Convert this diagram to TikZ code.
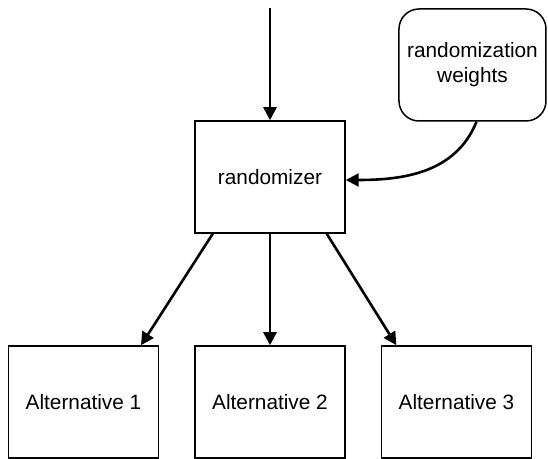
\documentclass[tikz,border=0pt]{standalone}
\usepackage{fontspec}
\setmainfont{Liberation Sans}
\usetikzlibrary{arrows.meta}

\tikzset{
  block/.style={draw, line width=0.75pt, minimum width=75pt, minimum height=56pt,
    inner sep=0pt, align=center, font=\fontsize{10.4}{12.5}\selectfont},
  weightbox/.style={block, minimum width=73.5pt, rounded corners=10pt},
  arr/.style={line width=1.3pt, -{Triangle[length=6.5pt,width=6.5pt]}}
}

\begin{document}
\begin{tikzpicture}[x=0.5pt, y=-0.5pt]

% Fix the page size
\useasboundingbox (0,0) rectangle (548,459);

% Define the entry point of the top arrow
\coordinate (in) at (270,8);

% Place the boxes
\node[block] (rand) at (270,177) {randomizer};
\node[weightbox] (weights) at (472.5,65) {randomization\\weights};
\node[block] (alt1) at (83.5,402) {Alternative 1};
\node[block] (alt2) at (270,402) {Alternative 2};
\node[block] (alt3) at (456.5,402) {Alternative 3};

% Draw the incoming arrow
\draw[arr] (in) -- (rand.north);

% Draw the arrow from the weights
\draw[arr] ([xshift=2pt]weights.south) to[out=-112, in=0] ([yshift=-1.5pt]rand.east);

% Draw the arrows to the alternatives
\draw[arr] ([xshift=9.25pt]rand.south west) -- ([xshift=28.75pt]alt1.north);
\draw[arr] (rand.south) -- (alt2.north);
\draw[arr] ([xshift=-9.5pt]rand.south east) -- ([xshift=7.8pt]alt3.north west);

\end{tikzpicture}
\end{document}
